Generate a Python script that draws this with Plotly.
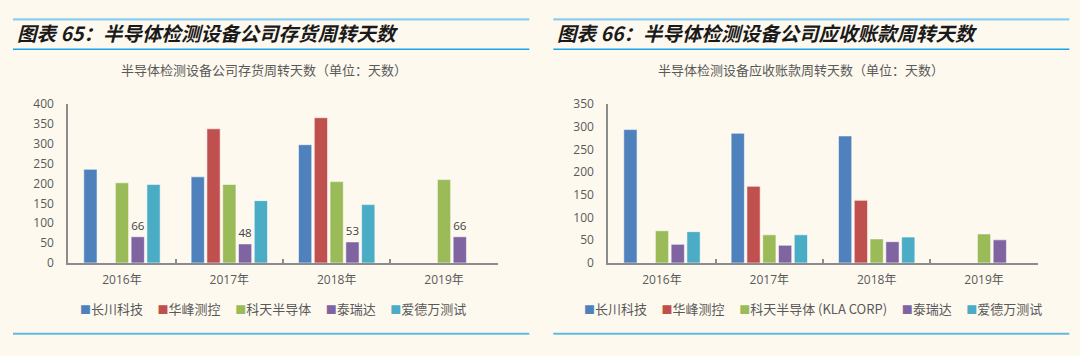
import plotly.graph_objects as go

W, H = 1080, 356

years = ["2016年", "2017年", "2018年", "2019年"]
companies_left = ["长川科技", "华峰测控", "科天半导体", "泰瑞达", "爱德万测试"]
companies_right = ["长川科技", "华峰测控", "科天半导体 (KLA CORP)", "泰瑞达", "爱德万测试"]
colors = ["#4F81BD", "#C0504D", "#9BBB59", "#8064A2", "#4BACC6"]

# 存货周转天数
inv_changchuan = [236, 217, 298, None]
inv_huafeng = [None, 338, 366, None]
inv_kla = [202, 198, 205, 210]
inv_teradyne = [66, 48, 53, 66]
inv_advantest = [198, 157, 147, None]
inventory = [inv_changchuan, inv_huafeng, inv_kla, inv_teradyne, inv_advantest]

# 应收账款周转天数
ar_changchuan = [294, 286, 280, None]
ar_huafeng = [None, 169, 138, None]
ar_kla = [71, 62, 53, 64]
ar_teradyne = [41, 39, 47, 51]
ar_advantest = [69, 62, 57, None]
receivable = [ar_changchuan, ar_huafeng, ar_kla, ar_teradyne, ar_advantest]

left_ticks = [0, 50, 100, 150, 200, 250, 300, 350, 400]
right_ticks = [0, 50, 100, 150, 200, 250, 300, 350]

title_left = "图表 65：半导体检测设备公司存货周转天数"
title_right = "图表 66：半导体检测设备公司应收账款周转天数"
sub_left = "半导体检测设备公司存货周转天数（单位：天数）"
sub_right = "半导体检测设备应收账款周转天数（单位：天数）"

FONT = "Open Sans, Noto Sans CJK SC, sans-serif"
CJK = "Noto Sans CJK SC, sans-serif"
BG = "#FEF9EF"
AXIS = "#8C8C8C"
TXT = "#595959"

def px(x):
    return x / W

def py(y):
    return 1 - y / H

fig = go.Figure()

for i, name in enumerate(companies_left):
    is_label = (i == 3)
    fig.add_trace(go.Bar(
        x=years, y=inventory[i], name=name, xaxis="x", yaxis="y",
        marker=dict(color=colors[i], line=dict(color="rgba(255,255,255,0.55)", width=1)),
        text=inventory[i] if is_label else None,
        textposition="outside" if is_label else "none",
        textfont=dict(family=FONT, size=13, color="#404040"),
        cliponaxis=False, showlegend=False,
    ))

for i, name in enumerate(companies_right):
    fig.add_trace(go.Bar(
        x=years, y=receivable[i], name=name, xaxis="x2", yaxis="y2",
        marker=dict(color=colors[i], line=dict(color="rgba(255,255,255,0.55)", width=1)),
        showlegend=False,
    ))

y_bottom, y_top = py(266.7), py(100)

xaxis_common = dict(
    type="category", categoryorder="array", categoryarray=years,
    showline=True, linecolor=AXIS, linewidth=2,
    ticks="inside", tickson="boundaries", ticklen=4, tickcolor=AXIS, tickwidth=1.5,
    tickfont=dict(family=FONT, size=12, color=TXT),
    ticklabelstandoff=5, showgrid=False, zeroline=False, fixedrange=True,
)
yaxis_common = dict(
    showline=True, linecolor=AXIS, linewidth=2, ticks="",
    tickfont=dict(family=FONT, size=12, color=TXT),
    ticklabelstandoff=10, showgrid=False, zeroline=False, fixedrange=True,
    tickmode="array",
)

fig.update_layout(
    width=W, height=H,
    paper_bgcolor=BG, plot_bgcolor="rgba(0,0,0,0)",
    margin=dict(l=0, r=0, t=0, b=0),
    barmode="group", bargap=0.265, bargroupgap=0.16,
    showlegend=False,
    xaxis=dict(domain=[px(68.3), px(497.7)], anchor="y", **xaxis_common),
    yaxis=dict(domain=[y_bottom, y_top], anchor="x", range=[0, 400],
               tickvals=left_ticks, **yaxis_common),
    xaxis2=dict(domain=[px(608.3), px(1037.7)], anchor="y2", **xaxis_common),
    yaxis2=dict(domain=[y_bottom, y_top], anchor="x2", range=[0, 350],
                tickvals=right_ticks, **yaxis_common),
)

shapes = []
for x0, x1 in [(13, 529.3), (553.3, 1069.3)]:
    shapes.append(dict(type="line", xref="paper", yref="paper", x0=px(x0), x1=px(x1),
                       y0=py(11), y1=py(11), line=dict(color="#8ACFF0", width=2.2)))
    shapes.append(dict(type="line", xref="paper", yref="paper", x0=px(x0), x1=px(x1),
                       y0=py(42.3), y1=py(42.3), line=dict(color="#1AA3E6", width=1.5)))
    shapes.append(dict(type="line", xref="paper", yref="paper", x0=px(x0), x1=px(x1),
                       y0=py(341), y1=py(341), line=dict(color="#62B8E0", width=2)))
fig.update_layout(shapes=shapes)

def legend_text(names):
    parts = []
    for c, n in zip(colors, names):
        parts.append(f"<span style='color:{c};font-size:11px'>■</span>{n}")
    return "     ".join(parts)

annotations = [
    dict(text=f"<b><i>{title_left}</i></b>", x=px(15), y=py(25), xref="paper", yref="paper",
         xanchor="left", yanchor="middle", showarrow=False,
         font=dict(family=CJK, size=19.5, color="#1A1A1A")),
    dict(text=f"<b><i>{title_right}</i></b>", x=px(555), y=py(25), xref="paper", yref="paper",
         xanchor="left", yanchor="middle", showarrow=False,
         font=dict(family=CJK, size=19.5, color="#1A1A1A")),
    dict(text=sub_left, x=px(264), y=py(64), xref="paper", yref="paper",
         xanchor="center", yanchor="middle", showarrow=False,
         font=dict(family=CJK, size=13, color=TXT)),
    dict(text=sub_right, x=px(801), y=py(64), xref="paper", yref="paper",
         xanchor="center", yanchor="middle", showarrow=False,
         font=dict(family=CJK, size=13, color=TXT)),
    dict(text=legend_text(companies_left), x=px(273), y=py(315), xref="paper", yref="paper",
         xanchor="center", yanchor="middle", showarrow=False,
         font=dict(family=CJK, size=13, color=TXT)),
    dict(text=legend_text(companies_right), x=px(813), y=py(315), xref="paper", yref="paper",
         xanchor="center", yanchor="middle", showarrow=False,
         font=dict(family=CJK, size=13, color=TXT)),
]
fig.update_layout(annotations=annotations)

post = (
    "document.documentElement.style.margin='0';"
    "document.documentElement.style.padding='0';"
    "document.documentElement.style.overflow='hidden';"
    "document.body.style.margin='0';"
    "document.body.style.padding='0';"
    "document.body.style.overflow='hidden';"
    "var d=document.getElementById('{plot_id}');"
    "d.style.position='fixed';d.style.top='0px';d.style.left='0px';"
)

fig.write_html("out.html", config={"displayModeBar": False}, post_script=post)
